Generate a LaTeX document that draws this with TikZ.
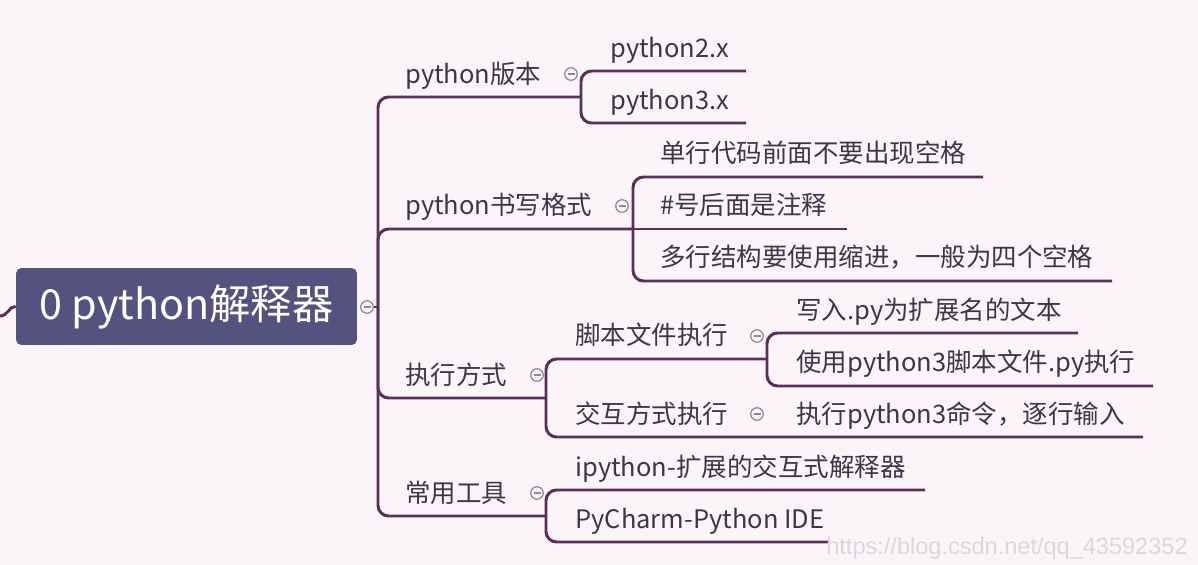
\documentclass[tikz,border=0pt]{standalone}
\usepackage{fontspec}
\setmainfont{Noto Sans CJK SC}
\newfontfamily\wmfont{Liberation Sans}
\usepackage{tikz}
\usetikzlibrary{positioning,calc}
\definecolor{bgC}{HTML}{FBF5FA}
\definecolor{lineC}{HTML}{5C2F59}
\definecolor{txtC}{HTML}{3E3547}
\definecolor{rootC}{HTML}{55527F}
\definecolor{foldC}{HTML}{8C8790}
\definecolor{wmC}{HTML}{DDD7DD}
\newcommand{\topicsize}{\fontsize{14.5pt}{17pt}\selectfont}
\newcommand{\rootsize}{\fontsize{23.5pt}{27pt}\selectfont}
\tikzset{
rootbox/.style={rectangle,rounded corners=3pt,fill=rootC,text=white,font=\rootsize,
minimum width=6.82cm,minimum height=1.54cm,inner sep=0pt},
topic/.style={anchor=west,inner sep=0pt,text=txtC,font=\topicsize,text height=0.88em,text depth=0.12em,yshift=-1.6pt},
mapline/.style={draw=lineC,line width=1.7pt,rounded corners=6pt},
fold/.style={circle,draw=foldC,fill=bgC,line width=0.7pt,minimum size=0.25cm,inner sep=0pt,
path picture={\draw[foldC,line width=0.7pt] ([xshift=-0.07cm]path picture bounding box.center) -- ([xshift=0.07cm]path picture bounding box.center);}},
wmark/.style={anchor=west,inner sep=0pt,text=wmC,font=\wmfont\fontsize{13.4pt}{16pt}\selectfont}
}
\begin{document}
\begin{tikzpicture}[x=0.02cm,y=-0.02cm]
\path[use as bounding box,fill=bgC] (0,0) rectangle (1198,565);
% root
\node[rootbox] (root) at (186.5,306.5) {0 python解释器};
\node[fold] (rootfold) at (367,307) {};
\coordinate (lead) at (0,316);
\draw[mapline] (lead) .. controls (8,316) and (9,306) .. (root.west);
\coordinate (hub) at (378,307);
\draw[mapline] (rootfold) -- (hub);

% python版本
\node[topic] (ver) at (405,74) {python版本};
\node[fold] (verfold) at (571,74) {};
\coordinate (verJ) at (581,97);
\draw[mapline] (hub) |- (verJ);
\node[topic] (py2) at (610,48) {python2.x};
\node[topic] (py3) at (610,100) {python3.x};
\coordinate (py2E) at (746,71);
\coordinate (py3E) at (746,123);
\draw[mapline] (verJ) |- (py2E);
\draw[mapline] (verJ) |- (py3E);

% python书写格式
\node[topic] (fmt) at (405,205) {python书写格式};
\node[fold] (fmtfold) at (622,206) {};
\coordinate (fmtJ) at (633,229);
\draw[mapline] (hub) |- (fmtJ);
\node[topic] (rule1) at (660,153) {单行代码前面不要出现空格};
\node[topic] (rule2) at (660,205) {\#号后面是注释};
\node[topic] (rule3) at (660,257) {多行结构要使用缩进，一般为四个空格};
\coordinate (rule1E) at (983,177);
\coordinate (rule2E) at (847,229);
\coordinate (rule3E) at (1112,281);
\draw[mapline] (fmtJ) |- (rule1E);
\draw[mapline] (fmtJ) -- (rule2E);
\draw[mapline] (fmtJ) |- (rule3E);

% 执行方式
\node[topic] (run) at (405,375) {执行方式};
\node[fold] (runfold) at (537,375) {};
\coordinate (runJ) at (546,398);
\draw[mapline] (hub) |- (runJ);
\node[topic] (scr) at (575,335) {脚本文件执行};
\node[fold] (scrfold) at (757,336) {};
\coordinate (scrJ) at (767,359);
\draw[mapline] (runJ) |- (scrJ);
\node[topic] (scr1) at (796,310) {写入.py为扩展名的文本};
\node[topic] (scr2) at (796,362) {使用python3脚本文件.py执行};
\coordinate (scr1E) at (1078,333);
\coordinate (scr2E) at (1153,386);
\draw[mapline] (scrJ) |- (scr1E);
\draw[mapline] (scrJ) |- (scr2E);
\node[topic] (act) at (575,414) {交互方式执行};
\node[fold] (actfold) at (757,414) {};
\node[topic] (act1) at (796,414) {执行python3命令，逐行输入};
\coordinate (act1E) at (1143,437);
\draw[mapline] (runJ) |- (act1E);

% 常用工具
\node[topic] (tool) at (405,493) {常用工具};
\node[fold] (toolfold) at (537,493) {};
\coordinate (toolJ) at (546,516);
\draw[mapline] (hub) |- (toolJ);
\node[topic] (tool1) at (575,467) {ipython-扩展的交互式解释器};
\node[topic] (tool2) at (575,519) {PyCharm-Python IDE};
\coordinate (tool1E) at (925,490);
\coordinate (tool2E) at (830,542);
\draw[mapline] (toolJ) |- (tool1E);
\draw[mapline] (toolJ) |- (tool2E);

\node[wmark] (wm) at (826,548) {https://blog.csdn.net/qq\_43592352};
\end{tikzpicture}
\end{document}
